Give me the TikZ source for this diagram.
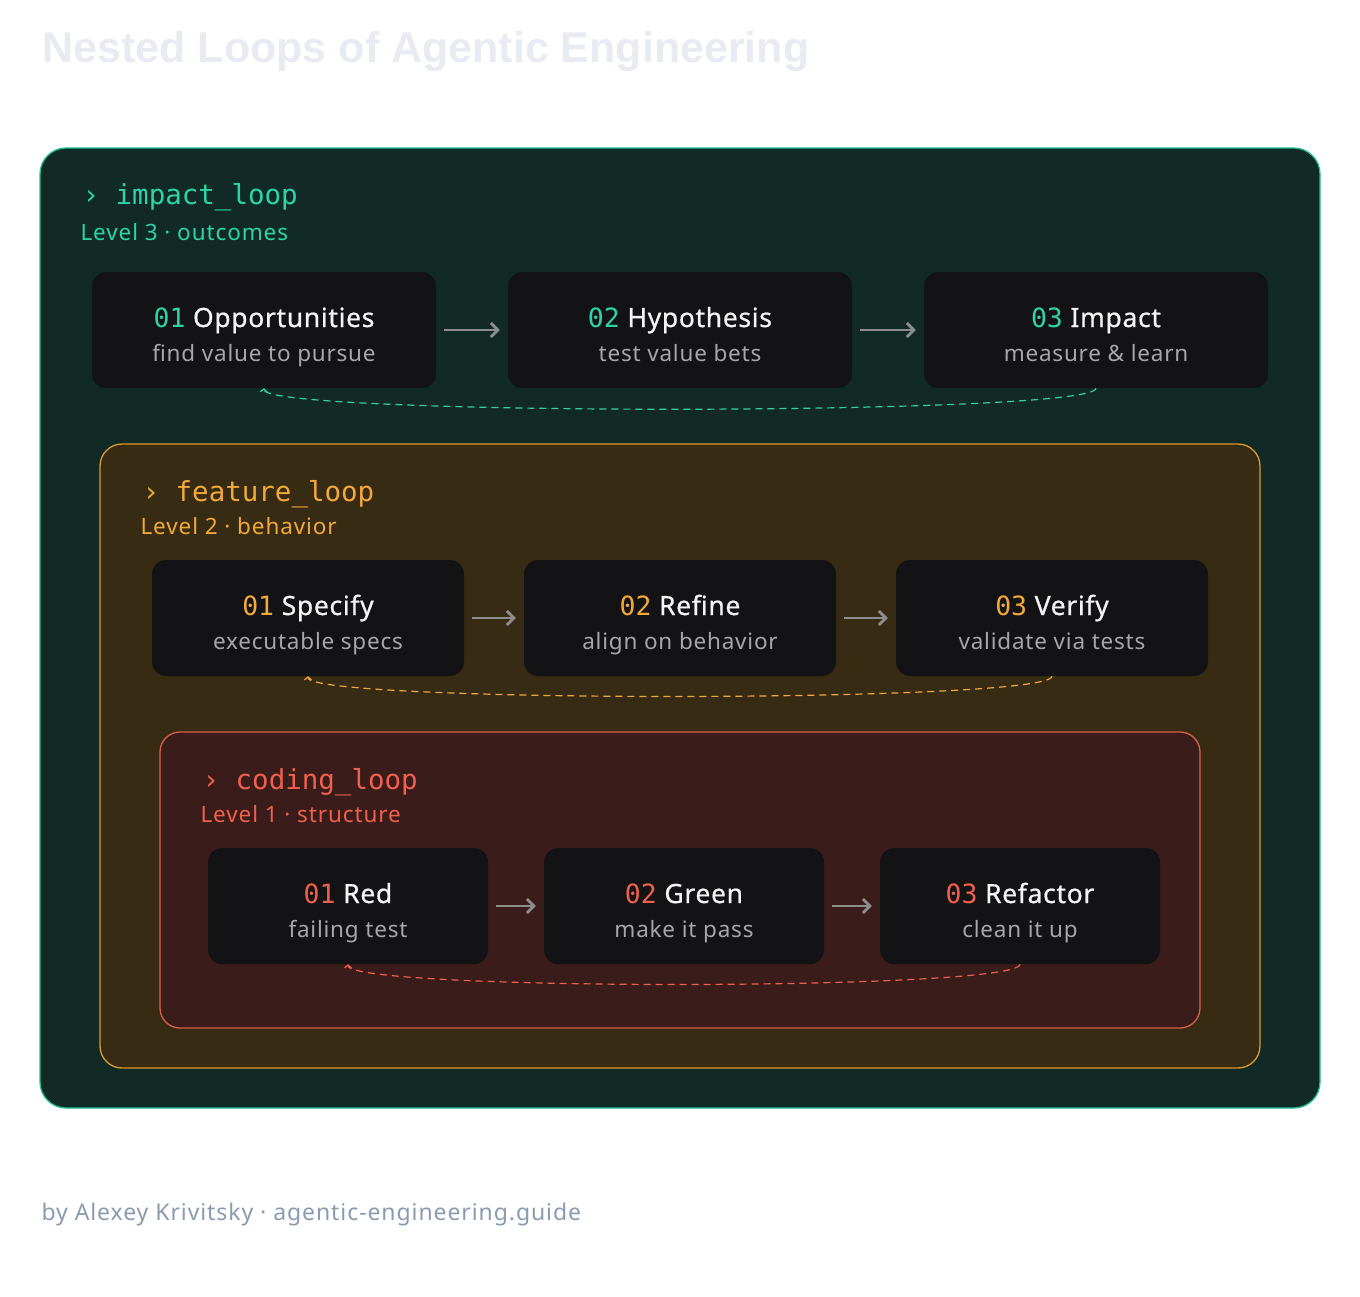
\documentclass[tikz,border=0pt]{standalone}
\usepackage{fontspec}
\setmainfont{Noto Sans}
\newfontfamily\monof{DejaVu Sans Mono}
\newfontfamily\headf{Liberation Sans}
\newfontfamily\medf[FakeBold=0.7,LetterSpace=2.5]{Noto Sans}
\newfontfamily\subf[LetterSpace=3.5]{Noto Sans}
\newfontfamily\levf[LetterSpace=4]{Noto Sans}
\usetikzlibrary{arrows.meta}
\definecolor{headc}{HTML}{E8ECF2}
\definecolor{footc}{HTML}{8A9BB0}
\definecolor{outerfill}{HTML}{112A26}
\definecolor{outerdraw}{HTML}{1FBF95}
\definecolor{tealc}{HTML}{2DD4A8}
\definecolor{featfill}{HTML}{382B13}
\definecolor{featdraw}{HTML}{D99A2B}
\definecolor{goldc}{HTML}{F2A93A}
\definecolor{codefill}{HTML}{3A1C1A}
\definecolor{codedraw}{HTML}{D9604E}
\definecolor{redc}{HTML}{F0604E}
\definecolor{boxc}{HTML}{131316}
\definecolor{titlec}{HTML}{F4F4F5}
\definecolor{subc}{HTML}{A6A7AD}
\definecolor{arrc}{HTML}{8E8E8E}
\begin{document}
\begin{tikzpicture}[x=1pt,y=-1pt,
  container/.style={line width=1.3pt, inner sep=0pt},
  stepbox/.style={fill=boxc, rounded corners=14pt, minimum height=116pt, inner sep=0pt},
  steptitle/.style={anchor=base, text=titlec, font=\medf\fontsize{26.5}{30}\selectfont},
  stepsub/.style={anchor=base, text=subc, font=\subf\fontsize{22.5}{26}\selectfont},
  looplabel/.style={anchor=base west, font=\monof\fontsize{27.5}{32}\selectfont},
  levellabel/.style={anchor=base west, font=\levf\fontsize{22.5}{26}\selectfont},
  flow/.style={draw=arrc, line width=2.8pt, shorten <=8pt, shorten >=8pt, -{Straight Barb[length=7pt,width=14pt]}},
  back/.style={line width=1.2pt, dash pattern=on 7pt off 5pt, -{Straight Barb[length=3pt,width=7pt]}}
]
\useasboundingbox[fill=white] (0,0) rectangle (1360,1296);

\node[anchor=base west, text=headc, font=\headf\bfseries\fontsize{43}{50}\selectfont] (title) at (39,62) {Nested Loops of Agentic Engineering};

% containers
\node[container, draw=outerdraw, fill=outerfill, rounded corners=26pt, minimum width=1280pt, minimum height=960pt] (outer) at (680,628) {};
\node[container, draw=featdraw, fill=featfill, rounded corners=22pt, minimum width=1160pt, minimum height=624pt] (feat) at (680,756) {};
\node[container, draw=codedraw, fill=codefill, rounded corners=20pt, minimum width=1040pt, minimum height=296pt] (code) at (680,880) {};

% labels
\node[looplabel, text=tealc] (l3) at (79,204) {› impact\_loop};
\node[levellabel, text=tealc] (l3s) at (77,240) {Level 3 · outcomes};
\node[looplabel, text=goldc] (l2) at (139,501) {› feature\_loop};
\node[levellabel, text=goldc] (l2s) at (137,534) {Level 2 · behavior};
\node[looplabel, text=redc] (l1) at (199,789) {› coding\_loop};
\node[levellabel, text=redc] (l1s) at (197,822) {Level 1 · structure};

% row 1
\node[stepbox, minimum width=344pt] (a1) at (264,330) {};
\node[stepbox, minimum width=344pt] (a2) at (680,330) {};
\node[stepbox, minimum width=344pt] (a3) at (1096,330) {};
\node[steptitle] (a1t) at (264,327) {{\monof\color{tealc}01} Opportunities};
\node[stepsub] (a1s) at (264,361) {find value to pursue};
\node[steptitle] (a2t) at (680,327) {{\monof\color{tealc}02} Hypothesis};
\node[stepsub] (a2s) at (680,361) {test value bets};
\node[steptitle] (a3t) at (1096,327) {{\monof\color{tealc}03} Impact};
\node[stepsub] (a3s) at (1096,361) {measure \& learn};
\draw[flow] (a1) -- (a2);
\draw[flow] (a2) -- (a3);
\draw[back, draw=tealc] (a3.south) .. controls (1096,416) and (262,416) .. (a1.south);

% row 2
\node[stepbox, minimum width=312pt] (b1) at (308,618) {};
\node[stepbox, minimum width=312pt] (b2) at (680,618) {};
\node[stepbox, minimum width=312pt] (b3) at (1052,618) {};
\node[steptitle] (b1t) at (308,615) {{\monof\color{goldc}01} Specify};
\node[stepsub] (b1s) at (308,649) {executable specs};
\node[steptitle] (b2t) at (680,615) {{\monof\color{goldc}02} Refine};
\node[stepsub] (b2s) at (680,649) {align on behavior};
\node[steptitle] (b3t) at (1052,615) {{\monof\color{goldc}03} Verify};
\node[stepsub] (b3s) at (1052,649) {validate via tests};
\draw[flow] (b1) -- (b2);
\draw[flow] (b2) -- (b3);
\draw[back, draw=goldc] (b3.south) .. controls (1052,703) and (308,703) .. (b1.south);

% row 3
\node[stepbox, minimum width=280pt] (c1) at (348,906) {};
\node[stepbox, minimum width=280pt] (c2) at (684,906) {};
\node[stepbox, minimum width=280pt] (c3) at (1020,906) {};
\node[steptitle] (c1t) at (348,903) {{\monof\color{redc}01} Red};
\node[stepsub] (c1s) at (348,937) {failing test};
\node[steptitle] (c2t) at (684,903) {{\monof\color{redc}02} Green};
\node[stepsub] (c2s) at (684,937) {make it pass};
\node[steptitle] (c3t) at (1020,903) {{\monof\color{redc}03} Refactor};
\node[stepsub] (c3s) at (1020,937) {clean it up};
\draw[flow] (c1) -- (c2);
\draw[flow] (c2) -- (c3);
\draw[back, draw=redc] (c3.south) .. controls (1020,991) and (348,991) .. (c1.south);

\node[anchor=base west, text=footc, font=\levf\fontsize{23}{27}\selectfont] (foot) at (38,1220) {by Alexey Krivitsky · agentic-engineering.guide};
\end{tikzpicture}
\end{document}
